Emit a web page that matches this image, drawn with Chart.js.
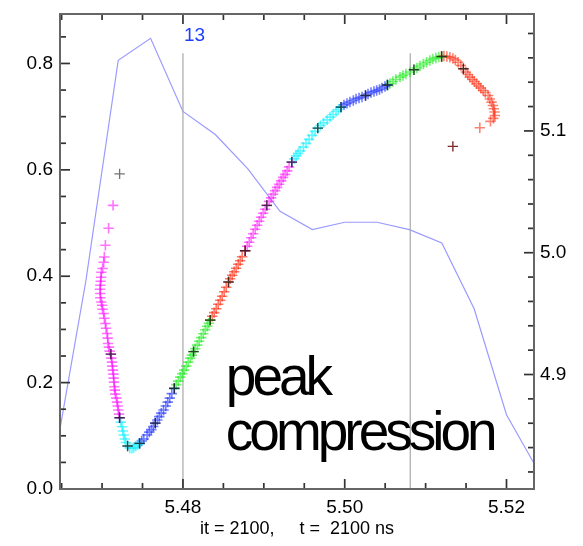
<!DOCTYPE html>
<html><head><meta charset="utf-8">
<script src="https://cdn.jsdelivr.net/npm/chart.js@4.4.0/dist/chart.umd.min.js"></script>
<style>html,body{margin:0;padding:0;background:#fff;}#wrap{width:583px;height:546px;}</style>
</head><body><div id="wrap"><canvas id="c" width="583" height="546"></canvas></div>
<script>
// ---- axis ranges and tick labels ----
const xRange = [5.4648, 5.5234];
const yRange = [0, 0.893];
const y2Range = [4.806, 5.196];
const xTickLabels = [5.48, 5.50, 5.52];
const yTickLabels = [0.0, 0.2, 0.4, 0.6, 0.8];
const y2TickLabels = [4.9, 5.0, 5.1];
const xMinorTicks = [5.465, 5.470, 5.475, 5.485, 5.490, 5.495, 5.505, 5.510, 5.515];
const yMinorTicks = [0.05, 0.10, 0.15, 0.25, 0.30, 0.35, 0.45, 0.50, 0.55, 0.65, 0.70, 0.75, 0.85];
const y2MinorTicks = [4.82, 4.84, 4.86, 4.88, 4.92, 4.94, 4.96, 4.98, 5.02, 5.04, 5.06, 5.08, 5.12, 5.14, 5.16, 5.18];
const xTitle = 'it = 2100,     t =  2100 ns';

// ---- thin blue line (right axis) ----
const lineX = [5.464, 5.468, 5.472, 5.476, 5.480, 5.484, 5.488, 5.492, 5.496, 5.500, 5.504, 5.508, 5.512, 5.516, 5.520, 5.524];
const lineY = [4.825, 4.977, 5.158, 5.176, 5.116, 5.097, 5.069, 5.034, 5.019, 5.025, 5.025, 5.019, 5.008, 4.954, 4.867, 4.820];

// ---- vertical reference lines ----
const vLineX = [5.48, 5.5081];
const vLineTop = 0.819;
const markLabel = {x: 5.48, y: 0.852, text: '13'};
const note = {x: 5.4853, y1: 0.1765, y2: 0.0732, line1: 'peak', line2: 'compression'};

// ---- trajectory segments (x, y) ----
const magenta1 = [[5.47136,0.5333],[5.47081,0.4901],[5.47041,0.4582],[5.47028,0.4362],[5.4702,0.4263],[5.47007,0.4145],[5.46991,0.4075],[5.46988,0.3981],[5.46983,0.3906],[5.46979,0.3831],[5.46975,0.3756],[5.46979,0.3675],[5.46979,0.3596],[5.46991,0.3517],[5.4700,0.3455],[5.47007,0.338],[5.4702,0.3299],[5.47028,0.3211],[5.47041,0.3112],[5.47049,0.3023],[5.47062,0.2924],[5.47069,0.2836],[5.47074,0.2736],[5.47084,0.2667],[5.47094,0.2592],[5.47109,0.2535],[5.47115,0.246],[5.47123,0.2385],[5.47127,0.231],[5.47133,0.2235],[5.4714,0.216],[5.47143,0.2084],[5.47148,0.2009],[5.47152,0.1921],[5.47158,0.1859],[5.47164,0.1784],[5.47177,0.1709],[5.47185,0.1634],[5.47193,0.1559],[5.47201,0.1484],[5.4721,0.1408],[5.47217,0.1339]];
const cyan1 = [[5.47217,0.1339],[5.47232,0.1258],[5.47247,0.117],[5.47257,0.1089],[5.47267,0.1014],[5.47281,0.0939],[5.47294,0.0873],[5.47316,0.0808],[5.47343,0.077],[5.4737,0.0764],[5.47393,0.0779],[5.47417,0.0808],[5.47442,0.0836],[5.47464,0.0858]];
const blue1 = [[5.47464,0.0858],[5.47491,0.0901],[5.47516,0.0939],[5.47556,0.1014],[5.47584,0.107],[5.47609,0.1117],[5.47633,0.1174],[5.47658,0.1239],[5.47683,0.1296],[5.47707,0.1361],[5.47732,0.1427],[5.4776,0.1484],[5.47788,0.1559],[5.47812,0.1634],[5.47837,0.1709],[5.47862,0.1793],[5.47893,0.1891]];
const green1 = [[5.47893,0.1891],[5.47917,0.1962],[5.47942,0.2028],[5.47967,0.2103],[5.47991,0.2169],[5.48016,0.2235],[5.48041,0.231],[5.48065,0.2385],[5.4809,0.246],[5.48111,0.2516],[5.48131,0.2582],[5.48152,0.2638],[5.48177,0.2704],[5.48201,0.2779],[5.48226,0.2845],[5.48251,0.292],[5.48275,0.2995],[5.483,0.3061],[5.48319,0.3117],[5.48337,0.3174]];
const red1 = [[5.48337,0.3174],[5.48362,0.3249],[5.48386,0.3315],[5.48411,0.339],[5.48436,0.3474],[5.48461,0.3549],[5.48485,0.3624],[5.4851,0.3709],[5.48535,0.3793],[5.48563,0.3893],[5.48584,0.3953],[5.48609,0.4019],[5.48633,0.4084],[5.48658,0.415],[5.48683,0.4225],[5.48707,0.4291],[5.48732,0.4366],[5.48769,0.4479]];
const magenta2 = [[5.48769,0.4479],[5.48794,0.4563],[5.48819,0.4638],[5.48843,0.4723],[5.48868,0.4798],[5.48893,0.4883],[5.48917,0.4958],[5.48942,0.5033],[5.48967,0.5108],[5.48991,0.5183],[5.49016,0.5258],[5.49037,0.5333],[5.49065,0.5408],[5.4909,0.5474],[5.49115,0.554],[5.4914,0.5606],[5.49164,0.5671],[5.49189,0.5728],[5.49214,0.5793],[5.49238,0.5859],[5.49263,0.5915],[5.49288,0.5981],[5.49312,0.6056],[5.49346,0.6146]];
const cyan2 = [[5.49346,0.6146],[5.49374,0.6207],[5.49399,0.6263],[5.49423,0.631],[5.49448,0.6357],[5.49489,0.6428],[5.49522,0.6498],[5.49559,0.6573],[5.49596,0.6648],[5.49633,0.6723],[5.49667,0.6785],[5.49701,0.6836],[5.49738,0.6883],[5.49782,0.6939],[5.49819,0.6991],[5.49856,0.7042],[5.49893,0.7098],[5.49923,0.7136],[5.49954,0.7179]];
const blue2 = [[5.49954,0.7179],[5.49991,0.7221],[5.50028,0.7249],[5.50065,0.7277],[5.50106,0.7305],[5.5014,0.7333],[5.50177,0.7352],[5.50214,0.7371],[5.50257,0.7399],[5.50288,0.7427],[5.50325,0.7455],[5.50362,0.7474],[5.50395,0.7493],[5.5043,0.7512],[5.5046,0.754],[5.50498,0.7568],[5.50528,0.7596]];
const green2 = [[5.50528,0.7596],[5.50559,0.7624],[5.50596,0.7662],[5.50633,0.7699],[5.50683,0.7743],[5.5072,0.7775],[5.50757,0.7803],[5.50806,0.784],[5.50856,0.7881],[5.50893,0.7915],[5.5093,0.7953],[5.50973,0.799],[5.51012,0.8024],[5.51053,0.8056],[5.5109,0.8084],[5.51127,0.8103],[5.51164,0.8122],[5.51198,0.8131]];
const red2 = [[5.51198,0.8131],[5.51226,0.8141],[5.51263,0.8131],[5.513,0.8118],[5.51337,0.8094],[5.51368,0.8066],[5.51402,0.8024],[5.51436,0.7962],[5.51467,0.79],[5.51498,0.784],[5.51522,0.7793],[5.51547,0.7743],[5.51578,0.7699],[5.51602,0.7662],[5.5163,0.7619],[5.51658,0.7577],[5.51683,0.754],[5.51711,0.7493],[5.51738,0.7455],[5.51773,0.7399],[5.51794,0.7333],[5.51815,0.7273],[5.51831,0.7211],[5.51843,0.7149],[5.51852,0.7089],[5.51856,0.7023],[5.51837,0.6967],[5.51802,0.6911],[5.5167,0.6792]];
const blackMarks = [[5.47109,0.2535],[5.47217,0.1339],[5.47316,0.0808],[5.47464,0.0858],[5.47658,0.1239],[5.47893,0.1891],[5.48131,0.2582],[5.48337,0.3174],[5.48563,0.3893],[5.48769,0.4479],[5.49037,0.5333],[5.49346,0.6146],[5.49667,0.6785],[5.49954,0.7179],[5.50257,0.7399],[5.50528,0.7596],[5.50856,0.7881],[5.51198,0.8131],[5.51467,0.79]];
const startMark = [[5.47217,0.5925]];
const endMark = [[5.51337,0.6441]];

const FONT = "'Liberation Sans', Arial, Helvetica, sans-serif";
const pts = a => a.map(p => ({x: p[0], y: p[1]}));
const crossSet = (data, color, order, r, w) => ({
  data: pts(data), pointStyle: 'cross', pointRadius: r || 5.2, pointHoverRadius: r || 5.2,
  borderColor: color, backgroundColor: color, pointBorderWidth: w || 1.6, showLine: false, order: order, yAxisID: 'y'
});

const datasets = [
  crossSet(blackMarks, 'rgba(25,25,25,0.8)', 1, 5.2, 1.4),
  crossSet(startMark, 'rgba(90,90,90,0.85)', 1, 5.2, 1.3),
  crossSet(endMark, 'rgba(110,20,20,0.9)', 1, 5.2, 1.4),
  crossSet(magenta1, 'rgba(255,0,255,0.55)', 5),
  crossSet(cyan1, 'rgba(0,240,255,0.6)', 5),
  crossSet(blue1, 'rgba(20,40,255,0.6)', 5),
  crossSet(green1, 'rgba(20,235,20,0.6)', 5),
  crossSet(red1, 'rgba(255,30,0,0.6)', 5),
  crossSet(magenta2, 'rgba(255,0,255,0.55)', 5),
  crossSet(cyan2, 'rgba(0,240,255,0.6)', 5),
  crossSet(blue2, 'rgba(20,40,255,0.6)', 5),
  crossSet(green2, 'rgba(20,235,20,0.6)', 5),
  crossSet(red2, 'rgba(255,30,0,0.55)', 5),
  {data: lineX.map((v, i) => ({x: v, y: lineY[i]})), yAxisID: 'y2', showLine: true, pointRadius: 0,
   borderColor: 'rgba(120,120,255,0.75)', borderWidth: 1.2, order: 10},
];
vLineX.forEach(v => datasets.push({data: [{x: v, y: 0}, {x: v, y: vLineTop}], yAxisID: 'y', showLine: true,
  pointRadius: 0, borderColor: '#a8a8a8', borderWidth: 1.2, order: 9}));

const decor = {
  id: 'decor',
  afterDraw(chart) {
    const ctx = chart.ctx;
    const a = chart.chartArea;
    const ys = chart.scales.y, y2s = chart.scales.y2;
    const L = a.left, R = a.right;
    const T = ys.getPixelForValue(yRange[1]);
    const B = ys.getPixelForValue(yRange[0]);
    const xpx = v => L + (v - xRange[0]) / (xRange[1] - xRange[0]) * (R - L);
    ctx.save();
    ctx.fillStyle = '#333';
    const TW = 1.7;
    const xTick = (v, len) => { const p = xpx(v); ctx.fillRect(p - TW / 2, B - len, TW, len); ctx.fillRect(p - TW / 2, T, TW, len); };
    xTickLabels.forEach(v => xTick(v, 10));
    xMinorTicks.forEach(v => xTick(v, 6));
    yTickLabels.forEach(v => { const p = ys.getPixelForValue(v); ctx.fillRect(L, p - TW / 2, 10, TW); });
    yMinorTicks.forEach(v => { const p = ys.getPixelForValue(v); ctx.fillRect(L, p - TW / 2, 6, TW); });
    y2TickLabels.forEach(v => { const p = y2s.getPixelForValue(v); ctx.fillRect(R - 10, p - TW / 2, 10, TW); });
    y2MinorTicks.forEach(v => { const p = y2s.getPixelForValue(v); ctx.fillRect(R - 6, p - TW / 2, 6, TW); });
    ctx.lineWidth = 2;
    ctx.strokeStyle = '#666';
    ctx.strokeRect(L, T, R - L, B - T);
    // label "13"
    ctx.fillStyle = '#1f3dff';
    ctx.font = '19px ' + FONT;
    ctx.textBaseline = 'middle';
    ctx.textAlign = 'left';
    ctx.fillText(markLabel.text, xpx(markLabel.x) + 1, ys.getPixelForValue(markLabel.y));
    // annotation
    ctx.fillStyle = '#000';
    ctx.font = '55px ' + FONT;
    ctx.textBaseline = 'alphabetic';
    if ('letterSpacing' in ctx) ctx.letterSpacing = '-4px';
    const nx = xpx(note.x);
    ctx.fillText(note.line1, nx, ys.getPixelForValue(note.y1));
    ctx.fillText(note.line2, nx, ys.getPixelForValue(note.y2));
    ctx.restore();
  }
};

const tickFont = {family: FONT, size: 19};
new Chart(document.getElementById('c'), {
  type: 'scatter',
  data: {datasets},
  plugins: [decor],
  options: {
    responsive: false, animation: false, devicePixelRatio: 1,
    layout: {padding: {top: 14, left: 0, right: 0, bottom: 0}},
    plugins: {legend: {display: false}, tooltip: {enabled: false}},
    scales: {
      x: {type: 'linear', position: 'bottom', min: xRange[0], max: xRange[1],
        grid: {display: false, drawTicks: false}, border: {display: false},
        ticks: {font: tickFont, color: '#000', padding: 7, maxRotation: 0, callback: v => v.toFixed(2)},
        afterBuildTicks: s => { s.ticks = xTickLabels.map(v => ({value: v})); },
        afterFit: s => { s.height = 57; s.paddingLeft = 0; s.paddingRight = 0; },
        title: {display: true, text: xTitle, color: '#000', font: {family: FONT, size: 18}, padding: {top: 0, bottom: 6}}},
      y: {type: 'linear', position: 'left', min: yRange[0], max: yRange[1],
        grid: {display: false, drawTicks: false}, border: {display: false},
        ticks: {font: tickFont, color: '#000', padding: 7, callback: v => v.toFixed(1)},
        afterBuildTicks: s => { s.ticks = yTickLabels.map(v => ({value: v})); },
        afterFit: s => { s.width = 60; s.paddingTop = 0; s.paddingBottom = 0; }},
      y2: {type: 'linear', position: 'right', min: y2Range[0], max: y2Range[1],
        grid: {display: false, drawTicks: false}, border: {display: false},
        ticks: {font: tickFont, color: '#000', padding: 6, callback: v => v.toFixed(1)},
        afterBuildTicks: s => { s.ticks = y2TickLabels.map(v => ({value: v})); },
        afterFit: s => { s.width = 49; s.paddingTop = 0; s.paddingBottom = 0; }}
    }
  }
});
</script></body></html>
